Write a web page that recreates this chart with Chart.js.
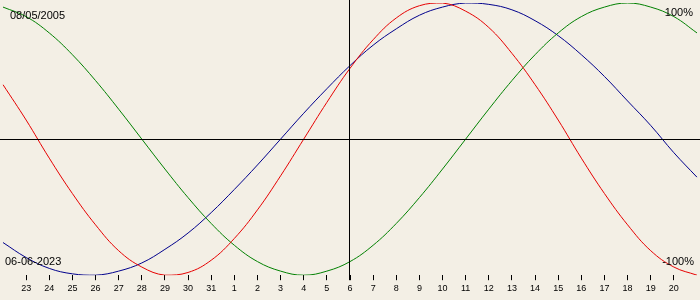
<!DOCTYPE html>
<html>
<head>
<meta charset="utf-8">
<script src="https://cdn.jsdelivr.net/npm/chart.js@4/dist/chart.umd.min.js"></script>
<style>
  html, body { margin: 0; padding: 0; background: #F3EFE5; }
  #wrap { width: 700px; height: 300px; position: relative; }
</style>
</head>
<body>
<div id="wrap"><canvas id="bioChart"></canvas></div>
<script>
// days shown: 22 May .. 21 June, centre is 6 June
const days = ['22', '23', '24', '25', '26', '27', '28', '29', '30', '31',
    '1', '2', '3', '4', '5', '6', '7', '8', '9', '10',
    '11', '12', '13', '14', '15', '16', '17', '18', '19', '20', '21'];
const todayIndex = 15;
const birthLabel = '08/05/2005';
const dateLabel = '06-06-2023';
const topLabel = '100%';
const bottomLabel = '-100%';

const physical = [0.40, 0.14, -0.14, -0.40, -0.63, -0.82, -0.94, -1.00, -0.98, -0.89,
    -0.73, -0.52, -0.27, 0.00, 0.27, 0.52, 0.73, 0.89, 0.98, 1.00,
    0.94, 0.82, 0.63, 0.40, 0.14, -0.14, -0.40, -0.63, -0.82, -0.94, -1.00];
const emotional = [0.97, 0.90, 0.78, 0.62, 0.43, 0.22, 0.00, -0.22, -0.43, -0.62,
    -0.78, -0.90, -0.97, -1.00, -0.97, -0.90, -0.78, -0.62, -0.43, -0.22,
    0.00, 0.22, 0.43, 0.62, 0.78, 0.90, 0.97, 1.00, 0.97, 0.90, 0.78];
const intellectual = [-0.76, -0.87, -0.95, -0.99, -1.00, -0.97, -0.91, -0.81, -0.69, -0.54,
    -0.37, -0.19, 0.00, 0.19, 0.37, 0.54, 0.69, 0.81, 0.91, 0.97,
    1.00, 0.99, 0.95, 0.87, 0.76, 0.62, 0.46, 0.28, 0.10, -0.10, -0.28];

// cross lines and corner texts
const overlay = {
    id: 'overlay',
    afterDatasetsDraw(chart) {
        const ctx = chart.ctx;
        const area = chart.chartArea;
        const x = chart.scales.x.getPixelForValue(todayIndex);
        const y = chart.scales.y.getPixelForValue(0);
        ctx.save();
        ctx.strokeStyle = '#000';
        ctx.lineWidth = 1;
        ctx.beginPath();
        ctx.moveTo(0, Math.round(y) + 0.5);
        ctx.lineTo(chart.width, Math.round(y) + 0.5);
        ctx.moveTo(Math.round(x) - 0.5, 0);
        ctx.lineTo(Math.round(x) - 0.5, area.bottom + 5);
        ctx.stroke();

        ctx.fillStyle = '#000';
        ctx.font = '11px "Liberation Sans", Arial, sans-serif';
        ctx.textBaseline = 'middle';
        ctx.textAlign = 'left';
        ctx.fillText(birthLabel, 10, 16);
        ctx.fillText(dateLabel, 5, 262);
        ctx.textAlign = 'right';
        ctx.fillText(topLabel, 693, 13);
        ctx.fillText(bottomLabel, 694, 262);
        ctx.restore();
    }
};

new Chart(document.getElementById('bioChart'), {
    type: 'line',
    data: {
        labels: days,
        datasets: [
            { label: 'Physical', data: physical, borderColor: 'rgb(230, 0, 0)', borderWidth: 1, tension: 0.4 },
            { label: 'Emotional', data: emotional, borderColor: 'rgb(0, 128, 0)', borderWidth: 1, tension: 0.4 },
            { label: 'Intellectual', data: intellectual, borderColor: 'rgb(0, 0, 140)', borderWidth: 1, tension: 0.4 }
        ]
    },
    options: {
        responsive: true,
        maintainAspectRatio: false,
        animation: false,
        layout: { padding: { top: 3, bottom: 3, left: 0, right: 0 } },
        elements: { point: { radius: 0 } },
        plugins: { legend: { display: false }, tooltip: { enabled: false } },
        scales: {
            x: {
                offset: false,
                border: { display: false },
                grid: {
                    drawOnChartArea: false,
                    drawTicks: true,
                    tickLength: 5,
                    color: (c) => (c.index === 0 || c.index === days.length - 1) ? 'rgba(0,0,0,0)' : '#000'
                },
                ticks: {
                    autoSkip: false,
                    maxRotation: 0,
                    padding: 3,
                    color: '#000',
                    font: { family: '"Liberation Sans", Arial, sans-serif', size: 9 },
                    callback: (v, i) => (i === 0 || i === days.length - 1) ? '' : days[i]
                }
            },
            y: { display: false, min: -1, max: 1 }
        }
    },
    plugins: [overlay]
});
</script>
</body>
</html>
